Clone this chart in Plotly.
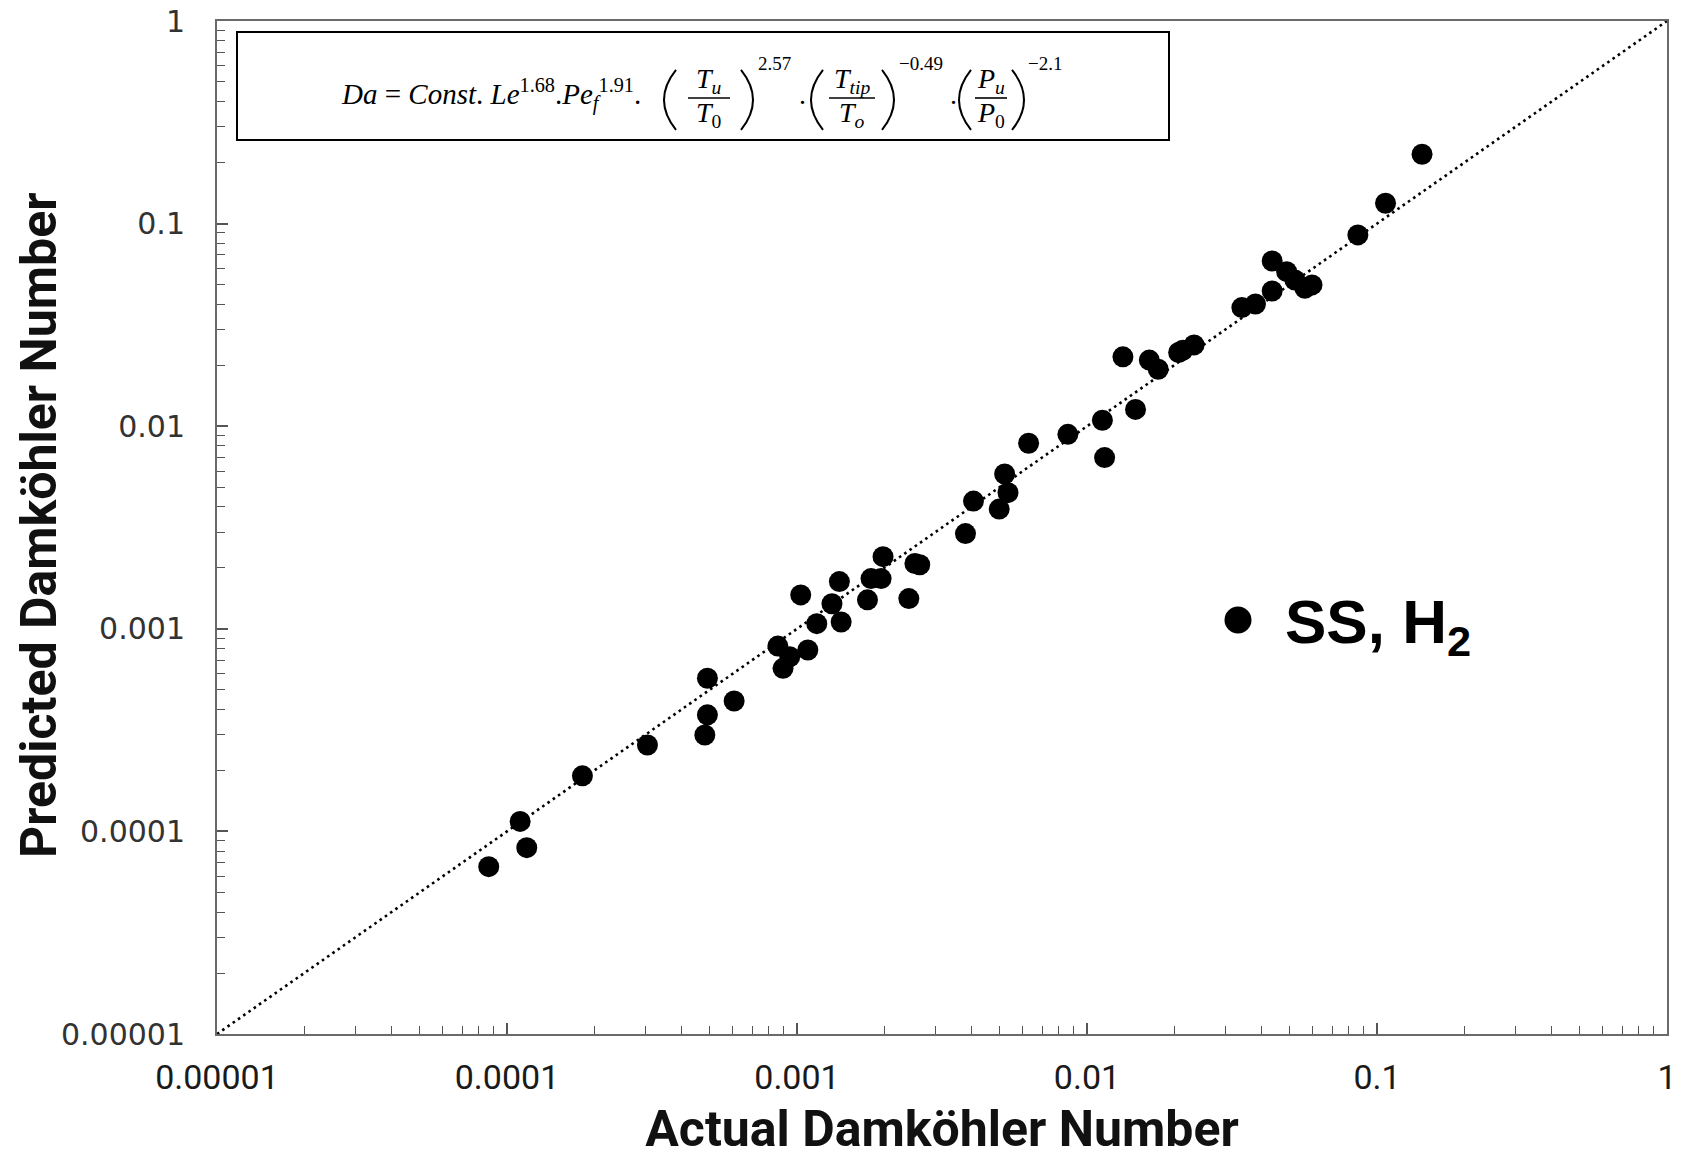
import plotly.graph_objects as go

# ---------------- data ----------------
actual = [8.65e-5, 1.11e-4, 1.17e-4, 1.82e-4, 3.05e-4, 4.91e-4, 4.91e-4, 4.81e-4, 6.07e-4,
          8.59e-4, 9.44e-4, 8.95e-4, 1.09e-3, 1.03e-3, 1.17e-3, 1.32e-3, 1.42e-3, 1.40e-3,
          1.75e-3, 1.80e-3, 1.95e-3, 1.98e-3, 2.43e-3, 2.55e-3, 2.65e-3, 3.81e-3, 4.06e-3,
          4.98e-3, 5.20e-3, 5.34e-3, 6.29e-3, 8.59e-3, 1.13e-2, 1.15e-2, 1.33e-2, 1.47e-2,
          1.64e-2, 1.76e-2, 2.07e-2, 2.14e-2, 2.34e-2, 3.42e-2, 3.81e-2, 4.35e-2, 4.35e-2,
          4.88e-2, 5.21e-2, 5.64e-2, 5.97e-2, 8.59e-2, 0.107, 0.143]
predicted = [6.70e-5, 1.12e-4, 8.31e-5, 1.88e-4, 2.67e-4, 5.70e-4, 3.76e-4, 2.99e-4, 4.40e-4,
             8.22e-4, 7.28e-4, 6.38e-4, 7.86e-4, 1.47e-3, 1.06e-3, 1.33e-3, 1.08e-3, 1.71e-3,
             1.39e-3, 1.77e-3, 1.77e-3, 2.27e-3, 1.41e-3, 2.10e-3, 2.07e-3, 2.95e-3, 4.27e-3,
             3.90e-3, 5.81e-3, 4.70e-3, 8.24e-3, 9.12e-3, 1.07e-2, 7.0e-3, 2.20e-2, 1.21e-2,
             2.12e-2, 1.91e-2, 2.31e-2, 2.37e-2, 2.52e-2, 3.85e-2, 4.01e-2, 4.65e-2, 6.54e-2,
             5.79e-2, 5.27e-2, 4.79e-2, 4.98e-2, 8.79e-2, 0.126, 0.220]
parity = [1e-5, 1.0]
series_name = "SS, H<sub>2</sub>"
tick_vals = [1e-5, 1e-4, 1e-3, 1e-2, 1e-1, 1.0]
tick_text = ["0.00001", "0.0001", "0.001", "0.01", "0.1", "1"]
minor_vals = [m * 10.0 ** e for e in range(-5, 0) for m in range(2, 10)]
x_title = "Actual Damköhler Number"
y_title = "Predicted Damköhler Number"

# ---------------- layout geometry ----------------
W, H = 1690, 1158
L, R, T, B = 217, 23, 21, 124


def px(x):
    return (x - L) / (W - L - R)


def py(y):
    return (H - B - y) / (H - T - B)


fig = go.Figure()
fig.add_trace(go.Scatter(x=parity, y=parity, mode="lines", showlegend=False, hoverinfo="skip",
                         line=dict(color="black", width=2.6, dash="2.6px,3.8px")))
fig.add_trace(go.Scatter(x=actual, y=predicted, mode="markers", name="SS, H₂", showlegend=False,
                         marker=dict(size=21, color="black", line=dict(width=0))))

axis_common = dict(type="log", range=[-5, 0], showgrid=False, zeroline=False,
                   showline=True, linecolor="#6a6a6a", linewidth=2, mirror=True,
                   tickmode="array", tickvals=tick_vals, ticktext=tick_text,
                   ticks="inside", ticklen=11, tickwidth=1.5, tickcolor="#555555",
                   minor=dict(tickmode="array", tickvals=minor_vals, ticks="inside",
                              ticklen=8, tickwidth=1.2, tickcolor="#555555", showgrid=False))

title_font = dict(family="Roboto, Liberation Sans, sans-serif", size=50, color="#111111")

fig.update_xaxes(**axis_common,
                 tickfont=dict(family="Roboto, Liberation Sans, sans-serif", size=34, color="#1a1a1a"),
                 ticklabelstandoff=12,
                 title=dict(text="<b>" + x_title + "</b>", font=title_font, standoff=28))
fig.update_yaxes(**axis_common,
                 tickfont=dict(family="DejaVu Sans, sans-serif", size=30, color="#333333"),
                 ticklabelstandoff=24)

shapes = []
annotations = []

# y-axis title, placed as a rotated annotation so it sits right against the tick labels
annotations.append(dict(text="<b>" + y_title + "</b>", x=px(39), y=py(525), xref="paper", yref="paper",
                        xanchor="center", yanchor="middle", textangle=-90, showarrow=False,
                        font=title_font))

# ---------------- formula box ----------------
shapes.append(dict(type="rect", xref="paper", yref="paper", x0=px(237), x1=px(1169),
                   y0=py(140), y1=py(32), line=dict(color="black", width=2), fillcolor="white",
                   layer="below"))

serif = "Liberation Serif, DejaVu Serif, serif"
MAIN = 28
SUP = 19


def ann(text, x, y, size=MAIN, xanchor="left"):
    annotations.append(dict(text=text, x=px(x), y=py(y), xref="paper", yref="paper",
                            xanchor=xanchor, yanchor="middle", showarrow=False,
                            font=dict(family=serif, size=size, color="black")))


def paren(xe, xb, y0=70, y1=130):
    ym = (y0 + y1) / 2
    c = 2 * xb - xe
    path = "M {:.5f},{:.5f} Q {:.5f},{:.5f} {:.5f},{:.5f}".format(px(xe), py(y0), px(c), py(ym), px(xe), py(y1))
    shapes.append(dict(type="path", xref="paper", yref="paper", path=path,
                       line=dict(color="black", width=2)))


def fraction(num, den, xc, half):
    ann(num, xc, 81, xanchor="center")
    ann(den, xc, 115, xanchor="center")
    shapes.append(dict(type="line", xref="paper", yref="paper", x0=px(xc - half), x1=px(xc + half),
                       y0=py(98), y1=py(98), line=dict(color="black", width=1.6)))


ann("<i>Da</i> = <i>Const</i>. <i>Le</i><sup>1.68</sup>.<i>Pe</i><sub><i>f</i></sub><sup>1.91</sup>.", 339, 94, 29)
# group 1
paren(676, 664); paren(741, 753)
fraction("<i>T</i><sub><i>u</i></sub>", "<i>T</i><sub>0</sub>", 709, 21)
ann("2.57", 756, 63, SUP)
ann(".", 797, 94)
# group 2
paren(823, 811); paren(882, 894)
fraction("<i>T</i><sub><i>tip</i></sub>", "<i>T</i><sub><i>o</i></sub>", 852, 23)
ann("−0.49", 897, 63, SUP)
ann(".", 948, 94)
# group 3
paren(971, 959); paren(1012, 1024)
fraction("<i>P</i><sub><i>u</i></sub>", "<i>P</i><sub>0</sub>", 991, 16)
ann("−2.1", 1026, 63, SUP)

# ---------------- legend (marker + label) ----------------
shapes.append(dict(type="circle", xref="paper", yref="paper", xsizemode="pixel", ysizemode="pixel",
                   xanchor=px(1238), yanchor=py(620), x0=-13.5, x1=13.5, y0=-13.5, y1=13.5,
                   fillcolor="black", line=dict(width=0)))
annotations.append(dict(text="<b>" + series_name + "</b>", x=px(1283), y=py(626), xref="paper",
                        yref="paper", xanchor="left", yanchor="middle", showarrow=False,
                        font=dict(family="Liberation Sans, Arial, sans-serif", size=62, color="black")))

fig.update_layout(width=W, height=H, margin=dict(l=L, r=R, t=T, b=B, autoexpand=False),
                  paper_bgcolor="white", plot_bgcolor="white", showlegend=False,
                  shapes=shapes, annotations=annotations)

fig.write_html("out.html")
